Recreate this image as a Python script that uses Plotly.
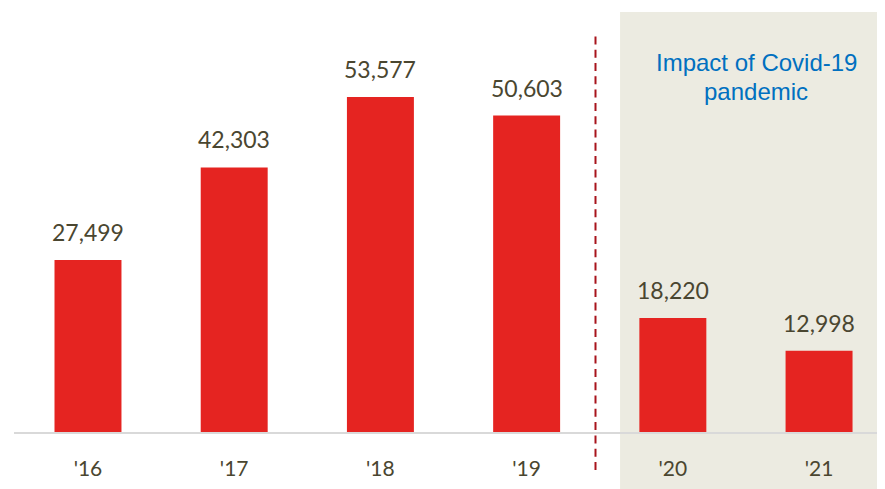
import plotly.graph_objects as go

categories = ["'16", "'17", "'18", "'19", "'20", "'21"]
values = [27499, 42303, 53577, 50603, 18220, 12998]
labels = ["27,499", "42,303", "53,577", "50,603", "18,220", "12,998"]
note_lines = ["Impact of Covid-19", "pandemic"]

x = list(range(len(categories)))
txt_color = "#4a4630"
font_fam = "Lato, 'Noto Sans', sans-serif"

fig = go.Figure()
fig.add_trace(go.Bar(x=x, y=values, width=0.458, marker=dict(color="#e52421", line=dict(width=0)),
                     hoverinfo="skip"))

for xi, v, t in zip(x, values, labels):
    fig.add_annotation(x=xi, y=v, text=t, showarrow=False, yanchor="bottom", yshift=12,
                       font=dict(family=font_fam, size=23, color=txt_color))

# shaded covid region
fig.add_shape(type="rect", xref="x", yref="paper", x0=3.639, x1=5.451, y0=-0.14, y1=0.9906,
              fillcolor="#ecebe1", line=dict(width=0), layer="below")
# dashed divider
fig.add_shape(type="line", xref="x", yref="paper", x0=3.471, x1=3.471, y0=-0.0896, y1=0.9340,
              line=dict(color="#a8141c", width=2, dash="8px,5.3px"))

for line_txt, yp in zip(note_lines, [0.871, 0.803]):
    fig.add_annotation(x=4.569, xref="x", y=yp, yref="paper", text=line_txt, showarrow=False,
                       yanchor="middle",
                       font=dict(family="'Liberation Sans', Arial, sans-serif", size=24, color="#0070c0"))

fig.update_layout(
    width=877, height=481,
    margin=dict(l=6, r=0, t=0, b=57),
    paper_bgcolor="white", plot_bgcolor="rgba(0,0,0,0)",
    showlegend=False,
    xaxis=dict(range=[-0.506, 5.451], tickvals=x, ticktext=categories, showgrid=False, zeroline=False,
               showline=True, linecolor="#d9d9d9", linewidth=2,
               ticks="outside", ticklen=17, tickcolor="rgba(0,0,0,0)",
               tickfont=dict(family=font_fam, size=21, color=txt_color)),
    yaxis=dict(range=[0, 67807], visible=False, showgrid=False, zeroline=False),
)

fig.write_html("out.html")
